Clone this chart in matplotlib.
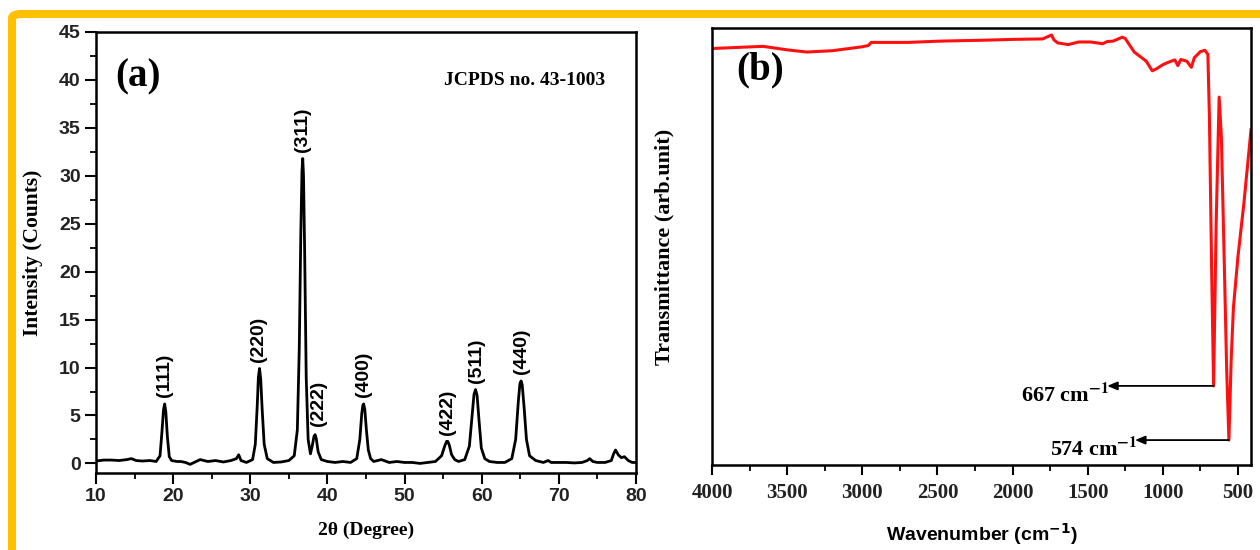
import matplotlib
matplotlib.use("Agg")
import matplotlib.pyplot as plt
from matplotlib.patches import FancyBboxPatch
from matplotlib.ticker import MultipleLocator

# ---- XRD pattern (a) ----
two_theta = [10.0, 11.0, 12.0, 13.0, 14.0, 14.6, 15.2, 16.0, 17.0, 17.8,
             18.3, 18.55, 18.75, 18.9, 19.05, 19.25, 19.5, 19.8,
             20.5, 21.0, 21.6, 22.2, 23.0, 23.5, 24.5, 25.5, 26.5, 27.5, 28.2, 28.5, 28.8, 29.5,
             30.3, 30.65, 30.9, 31.05, 31.2, 31.35, 31.55, 31.8, 32.2,
             33.0, 34.0, 35.0, 35.7, 36.1, 36.35, 36.55, 36.7, 36.8, 36.9, 37.05, 37.25, 37.5, 37.8,
             38.05, 38.25, 38.4, 38.55, 38.8, 39.2,
             40.0, 41.0, 42.0, 43.0, 43.8, 44.2, 44.45, 44.6, 44.7, 44.85, 45.05, 45.3, 45.6, 46.0,
             47.0, 48.0, 49.0, 50.0, 51.0, 52.0, 53.0, 54.0, 54.8, 55.2, 55.45, 55.6, 55.8, 56.1, 56.5,
             57.0, 57.8, 58.4, 58.75, 59.0, 59.2, 59.4, 59.65, 59.95, 60.4,
             61.0, 62.0, 63.0, 63.9, 64.4, 64.75, 64.95, 65.1, 65.25, 65.5, 65.8, 66.2,
             67.0, 68.0, 68.6, 69.0, 70.0, 71.0, 72.0, 73.0,
             73.7, 74.0, 74.4, 75.0, 76.0, 76.8, 77.1, 77.35, 77.7, 78.1, 78.5, 79.0, 79.5, 80.0]
intensity = [0.25, 0.35, 0.35, 0.3, 0.4, 0.5, 0.3, 0.25, 0.3, 0.2,
             0.8, 3.3, 5.6, 6.2, 5.4, 2.8, 0.7, 0.3,
             0.2, 0.2, 0.1, -0.1, 0.2, 0.4, 0.2, 0.3, 0.15, 0.3, 0.5, 0.9, 0.3, 0.1,
             0.4, 2.0, 6.0, 9.0, 9.9, 8.8, 5.5, 2.0, 0.5,
             0.1, 0.15, 0.3, 0.8, 3.5, 12.0, 24.0, 30.5, 31.8, 30.0, 22.0, 9.0, 2.5, 1.0,
             1.9, 2.8, 3.0, 2.6, 1.2, 0.4,
             0.2, 0.1, 0.2, 0.1, 0.5, 2.5, 5.2, 6.1, 6.2, 5.6, 3.5, 1.4, 0.5, 0.2,
             0.4, 0.1, 0.2, 0.1, 0.1, 0.0, 0.1, 0.2, 0.8, 1.8, 2.3, 2.3, 1.9, 0.9, 0.4,
             0.2, 0.4, 1.8, 5.0, 7.2, 7.7, 7.1, 4.5, 1.6, 0.5,
             0.2, 0.1, 0.1, 0.5, 2.5, 6.5, 8.3, 8.6, 8.2, 5.8, 2.5, 0.8,
             0.3, 0.1, 0.3, 0.1, 0.1, 0.1, 0.05, 0.1,
             0.3, 0.5, 0.2, 0.1, 0.1, 0.3, 1.0, 1.4, 0.9, 0.6, 0.7, 0.3, 0.1, 0.1]

hkl_labels = ["(111)", "(220)", "(311)", "(222)", "(400)", "(422)", "(511)", "(440)"]
hkl_x = [18.9, 31.1, 36.8, 38.8, 44.7, 55.6, 59.3, 65.1]
hkl_y = [6.9, 10.6, 32.5, 3.9, 6.9, 3.0, 8.4, 9.3]

# ---- FTIR spectrum (b) ----
wavenumber = [4000, 3800, 3660, 3500, 3370, 3200, 3000, 2960, 2940, 2700, 2480, 2200, 1990, 1800,
              1740, 1725, 1700, 1630, 1560, 1480, 1400, 1370, 1330, 1270, 1250, 1190, 1110, 1070,
              1040, 1000, 960, 920, 900, 880, 840, 810, 790, 750, 720, 700, 690, 675, 662, 645,
              625, 610, 590, 575, 560, 545, 530, 500, 460, 413]
transmittance = [95.3, 95.6, 95.8, 95.0, 94.5, 94.8, 95.7, 96.0, 96.7, 96.7, 97.0, 97.2, 97.4, 97.5,
                 98.4, 97.3, 96.6, 96.2, 96.8, 96.8, 96.4, 96.9, 97.0, 97.9, 97.6, 94.5, 92.4, 90.2,
                 90.7, 91.6, 92.2, 92.7, 91.4, 92.8, 92.4, 91.0, 93.2, 94.6, 94.9, 94.0, 80.0, 45.0,
                 18.1, 55.0, 84.2, 75.0, 45.0, 22.0, 5.7, 24.0, 36.0, 47.6, 60.0, 76.7]

band_labels = ["667 cm", "574 cm"]
band_tail_wn = [662, 560]
band_head_wn = [1370, 1185]
band_T = [18.1, 5.7]

SERIF = ["Liberation Serif", "DejaVu Serif"]
SANS = ["Liberation Sans", "DejaVu Sans"]

fig = plt.figure(figsize=(12.6, 5.5), dpi=100)

# orange frame around the whole picture
frame = FancyBboxPatch((12 / 1260, -5 / 550), 1.2, (550 - 14 + 5) / 550,
                       boxstyle="round,pad=0,rounding_size=0.008",
                       transform=fig.transFigure, fill=False,
                       edgecolor="#FFC000", linewidth=5.8, zorder=0)
fig.patches.append(frame)

# ---------------- (a) ----------------
ax1 = fig.add_axes([96 / 1260, 1 - 473 / 550, 540 / 1260, 441 / 550])
ax1.plot(two_theta, intensity, color="black", lw=2.0)
ax1.set_xlim(10, 80)
ax1.set_ylim(-1, 45)
ax1.xaxis.set_major_locator(MultipleLocator(10))
ax1.xaxis.set_minor_locator(MultipleLocator(5))
ax1.yaxis.set_major_locator(MultipleLocator(5))
ax1.yaxis.set_minor_locator(MultipleLocator(2.5))
ax1.tick_params(which="major", direction="out", length=8, width=1.5, pad=3)
ax1.tick_params(which="minor", direction="out", length=4.5, width=1.3)
for sp in ax1.spines.values():
    sp.set_linewidth(1.8)
for lab in ax1.get_xticklabels() + ax1.get_yticklabels():
    lab.set_family(SANS)
    lab.set_fontweight("bold")
    lab.set_fontsize(14)
    lab.set_color("#222222")

ax1.set_ylabel("Intensity (Counts)", family=SERIF, fontweight="bold", fontsize=15.5)
ax1.yaxis.set_label_coords(-0.098, 0.5)
ax1.set_xlabel("2θ (Degree)", family=SERIF, fontweight="bold", fontsize=14)
ax1.xaxis.set_label_coords(0.5, -0.11)

for lab, x, y in zip(hkl_labels, hkl_x, hkl_y):
    ax1.text(x, y, lab, rotation=90, ha="center", va="bottom", family=SANS,
             fontweight="bold", fontsize=14)

ax1.text(0.035, 0.898, "(a)", transform=ax1.transAxes, family=SERIF, fontweight="bold",
         fontsize=28, ha="left", va="center")
ax1.text(0.943, 0.889, "JCPDS no. 43-1003", transform=ax1.transAxes, family=SERIF,
         fontweight="bold", fontsize=14, ha="right", va="center")

# ---------------- (b) ----------------
ax2 = fig.add_axes([712 / 1260, 1 - 465 / 550, 539 / 1260, 437 / 550])
ax2.plot(wavenumber, transmittance, color="#FF1010", lw=2.2)
ax2.set_xlim(4000, 413)
ax2.set_ylim(0, 100)
ax2.xaxis.set_major_locator(MultipleLocator(500))
ax2.xaxis.set_minor_locator(MultipleLocator(250))
ax2.set_yticks([])
ax2.tick_params(axis="x", which="major", direction="out", length=7, width=1.5, pad=6)
ax2.tick_params(axis="x", which="minor", direction="out", length=4, width=1.3)
for sp in ax2.spines.values():
    sp.set_linewidth(1.8)
for lab in ax2.get_xticklabels():
    lab.set_family(SERIF)
    lab.set_fontweight("bold")
    lab.set_fontsize(15)
    lab.set_color("#222222")

ax2.set_ylabel("Transmittance (arb.unit)", family=SERIF, fontweight="bold", fontsize=16)
ax2.yaxis.set_label_coords(-0.07, 0.5)
ax2.set_xlabel(r"Wavenumber (cm$^{\mathbf{-1}}$)", family=SANS, fontweight="bold",
               fontsize=14, math_fontfamily="dejavusans")
ax2.xaxis.set_label_coords(0.5, -0.128)

ax2.text(0.045, 0.904, "(b)", transform=ax2.transAxes, family=SERIF, fontweight="bold",
         fontsize=28, ha="left", va="center")

for lab, tail, head, T in zip(band_labels, band_tail_wn, band_head_wn, band_T):
    ax2.annotate("", xy=(head, T), xytext=(tail, T),
                 arrowprops=dict(arrowstyle="-|>,head_length=0.6,head_width=0.25",
                                 color="black", lw=1.3, shrinkA=0, shrinkB=0))
    ax2.text(head - 15, T + 0.5, lab + r"$^{\mathbf{-1}}$", family=SERIF, fontweight="bold",
             fontsize=16, ha="right", va="top", math_fontfamily="stix")

fig.savefig("out.png", dpi=100)
